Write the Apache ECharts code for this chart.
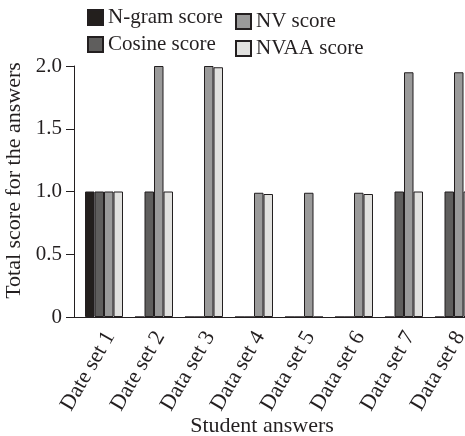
<!DOCTYPE html>
<html>
<head>
<meta charset="UTF-8">
<script src="https://cdn.jsdelivr.net/npm/echarts@6/dist/echarts.min.js"></script>
<style>
  html, body { margin: 0; padding: 0; background: #fff; }
  #chart { width: 465px; height: 436px; }
</style>
</head>
<body>
<div id="chart"></div>
<script>
// valores
const categories = ['Date set 1', 'Date set 2', 'Data set 3', 'Data set 4', 'Data set 5', 'Data set 6', 'Data set 7', 'Data set 8'];
const ngramScore = [1.0, 0, 0, 0, 0, 0, 0, 0];
const cosineScore = [1.0, 1.0, 0, 0, 0, 0, 1.0, 1.0];
const nvScore = [1.0, 2.0, 2.0, 0.99, 0.99, 0.99, 1.95, 1.95];
const nvaaScore = [1.0, 1.0, 1.99, 0.98, 0, 0.98, 1.0, 1.0];
const yTicks = [0, 0.5, 1.0, 1.5, 2.0];

const font = '"Liberation Serif", "Times New Roman", serif';
const ink = '#231f20';

const names = ['N-gram score', 'Cosine score', 'NV score', 'NVAA score'];
const colors = ['#231f1d', '#5f5e5d', '#9a9a9a', '#e1e1df'];
const values = [ngramScore, cosineScore, nvScore, nvaaScore];

const series = values.map((v, i) => ({
  name: names[i],
  type: 'bar',
  xAxisIndex: 1,
  yAxisIndex: 1,
  data: v,
  barWidth: 9.5,
  barGap: '0%',
  itemStyle: { color: colors[i], borderColor: ink, borderWidth: 1 },
  emphasis: { disabled: true }
}));

// grid 0: eixos visiveis, grid 1: barras, grid 2: rotulos do eixo x
const gridBase = { top: 66, width: 400, bottom: 119, outerBoundsMode: 'none', containLabel: false };
const hiddenY = (gi) => ({
  gridIndex: gi, type: 'value',
  min: yTicks[0], max: yTicks[yTicks.length - 1],
  show: false, splitLine: { show: false }
});

const chart = echarts.init(document.getElementById('chart'));
chart.setOption({
  animation: false,
  textStyle: { fontFamily: font },
  legend: [
    {
      data: ['N-gram score', 'Cosine score'],
      orient: 'vertical', left: 82, top: 2,
      icon: 'rect', itemWidth: 15, itemHeight: 15, itemGap: 6,
      textStyle: { fontFamily: font, fontSize: 21, color: ink },
      selectedMode: false
    },
    {
      data: ['NV score', 'NVAA score'],
      orient: 'vertical', left: 230, top: 6,
      icon: 'rect', itemWidth: 15, itemHeight: 15, itemGap: 6,
      textStyle: { fontFamily: font, fontSize: 21, color: ink },
      selectedMode: false
    }
  ],
  grid: [
    Object.assign({ left: 74 }, gridBase),
    Object.assign({ left: 79 }, gridBase),
    Object.assign({ left: 85 }, gridBase)
  ],
  xAxis: [
    {
      gridIndex: 0,
      type: 'category',
      data: categories,
      axisLine: { lineStyle: { color: ink, width: 1 } },
      axisTick: { length: 8, lineStyle: { color: ink } },
      axisLabel: { show: false },
      name: 'Student answers',
      nameLocation: 'middle',
      nameGap: 98,
      nameTextStyle: { fontFamily: font, fontSize: 22, color: ink, padding: [0, 24, 0, 0] }
    },
    {
      gridIndex: 1,
      type: 'category',
      data: categories,
      axisLine: { show: false },
      axisTick: { show: false },
      axisLabel: { show: false }
    },
    {
      gridIndex: 2,
      type: 'category',
      data: categories,
      axisLine: { show: false },
      axisTick: { show: false },
      axisLabel: { rotate: 60, margin: 16, fontFamily: font, fontSize: 22, color: ink }
    }
  ],
  yAxis: [
    {
      gridIndex: 0,
      type: 'value',
      min: yTicks[0],
      max: yTicks[yTicks.length - 1],
      interval: 0.5,
      splitLine: { show: false },
      axisLine: { show: true, lineStyle: { color: ink, width: 1 } },
      axisTick: { show: true, length: 8, lineStyle: { color: ink } },
      axisLabel: {
        margin: 12, fontFamily: font, fontSize: 21, color: ink,
        formatter: (v) => (v === 0 ? '0' : v.toFixed(1))
      },
      name: 'Total score for the answers',
      nameLocation: 'middle',
      nameGap: 38,
      nameTextStyle: { fontFamily: font, fontSize: 22, color: ink, padding: [0, 0, 0, 22] }
    },
    hiddenY(1),
    hiddenY(2)
  ],
  series: series
});
</script>
</body>
</html>
